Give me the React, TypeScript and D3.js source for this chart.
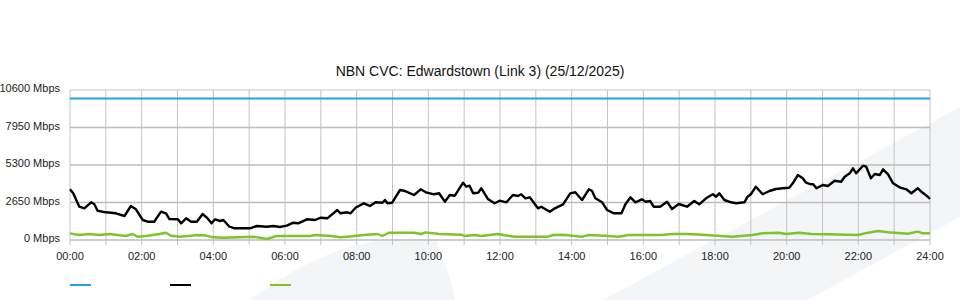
import React from "react";
import * as d3 from "d3";

const title = "NBN CVC: Edwardstown (Link 3) (25/12/2025)";
const yTicks = [0, 2650, 5300, 7950, 10600];
const xTickHours = [0, 2, 4, 6, 8, 10, 12, 14, 16, 18, 20, 22, 24];
const xGridHours = d3.range(0, 25);
const capacityMbps = 10000;

// [hour, Mbps]
const downstream: [number, number][] = [
  [0, 3580], [0.09, 3300], [0.26, 2353], [0.4, 2240], [0.59, 2664], [0.68, 2523], [0.77, 2070],
  [1.0, 1957], [1.28, 1887], [1.52, 1696], [1.7, 2403], [1.84, 2170], [2.03, 1413], [2.17, 1293],
  [2.35, 1293], [2.54, 2000], [2.68, 1887], [2.77, 1484], [3.01, 1463], [3.1, 1180], [3.24, 1533],
  [3.38, 1293], [3.54, 1293], [3.7, 1837], [3.81, 1604], [3.95, 1180], [4.05, 1463], [4.19, 1343],
  [4.28, 1413], [4.45, 940], [4.6, 827], [5.02, 827], [5.21, 989], [5.49, 940], [5.67, 989],
  [5.86, 919], [6.05, 1011], [6.23, 1223], [6.37, 1180], [6.61, 1463], [6.84, 1413], [7.0, 1576],
  [7.18, 1533], [7.46, 2120], [7.55, 1887], [7.74, 1957], [7.83, 1887], [7.97, 2283], [8.2, 2594],
  [8.37, 2403], [8.53, 2664], [8.72, 2636], [8.79, 2827], [8.86, 2594], [8.99, 2636], [9.21, 3533],
  [9.32, 3484], [9.6, 3180], [9.79, 3583], [9.93, 3371], [10.16, 3230], [10.3, 3300], [10.46, 2707],
  [10.6, 3180], [10.74, 3131], [10.97, 4049], [11.06, 3767], [11.15, 3837], [11.25, 3300],
  [11.39, 3343], [11.48, 3653], [11.67, 2876], [11.85, 2594], [11.99, 2777], [12.18, 2664],
  [12.36, 3180], [12.5, 3109], [12.59, 3230], [12.71, 2947], [12.83, 3017], [13.06, 2240],
  [13.15, 2353], [13.39, 2000], [13.53, 2240], [13.76, 2523], [13.96, 3300], [14.1, 3371],
  [14.29, 2827], [14.48, 3583], [14.57, 3463], [14.66, 2947], [14.85, 2664], [14.99, 2120],
  [15.17, 1887], [15.39, 1887], [15.5, 2523], [15.64, 3017], [15.78, 2664], [15.96, 2876],
  [16.06, 2707], [16.19, 2756], [16.29, 2353], [16.47, 2353], [16.66, 2707], [16.8, 2191],
  [16.99, 2544], [17.22, 2353], [17.42, 2756], [17.56, 2523], [17.75, 2947], [17.94, 3230],
  [18.03, 3060], [18.12, 3300], [18.26, 2827], [18.45, 2664], [18.59, 2594], [18.82, 2664],
  [18.91, 3060], [19.0, 3230], [19.14, 3767], [19.33, 3230], [19.52, 3463], [19.7, 3604],
  [19.89, 3653], [20.07, 3696], [20.17, 4007], [20.31, 4593], [20.45, 4360], [20.54, 4049],
  [20.68, 3936], [20.74, 3936], [20.83, 3653], [21.01, 3887], [21.15, 3816], [21.34, 4191],
  [21.52, 4120], [21.62, 4473], [21.76, 4713], [21.85, 5067], [21.94, 4713], [22.13, 5251],
  [22.22, 5180], [22.35, 4360], [22.46, 4664], [22.6, 4593], [22.69, 4996], [22.83, 4643],
  [22.97, 4007], [23.15, 3724], [23.34, 3583], [23.48, 3300], [23.66, 3653], [23.76, 3413],
  [23.94, 3060], [24, 2897],
];

const upstream: [number, number][] = [
  [0, 473], [0.26, 353], [0.54, 424], [0.82, 353], [1.1, 424], [1.56, 283], [1.75, 424],
  [1.89, 233], [2.12, 283], [2.49, 424], [2.68, 516], [2.82, 304], [3.05, 233], [3.38, 304],
  [3.54, 353], [3.77, 332], [4.0, 191], [4.28, 163], [5.12, 233], [5.49, 71], [5.77, 283],
  [6.14, 283], [6.7, 283], [6.84, 353], [7.28, 283], [7.55, 191], [7.74, 233], [8.2, 353],
  [8.58, 424], [8.72, 283], [8.9, 516], [9.6, 516], [9.79, 424], [9.93, 540], [10.3, 424],
  [10.92, 375], [11.01, 283], [11.29, 353], [11.48, 283], [11.94, 424], [12.13, 332],
  [12.41, 233], [13.34, 233], [13.48, 353], [13.76, 375], [14.29, 233], [14.48, 353],
  [15.03, 283], [15.31, 233], [15.59, 353], [16.52, 353], [16.8, 424], [17.22, 424],
  [17.38, 403], [17.75, 353], [18.49, 233], [19.05, 353], [19.33, 473], [19.79, 516],
  [19.98, 424], [20.35, 516], [20.68, 424], [21.15, 403], [21.99, 353], [22.27, 516],
  [22.55, 636], [22.83, 544], [23.2, 473], [23.38, 445], [23.66, 587], [23.8, 473], [24, 473],
];

const legendColors = ["#1fa3e8", "#000000", "#7cc42a"];

export default function App() {
  const W = 960;
  const H = 300;
  const x = d3.scaleLinear().domain([0, 24]).range([70, 930]);
  const y = d3.scaleLinear().domain([0, 10600]).range([240, 90]);
  const line = d3
    .line<[number, number]>()
    .x((d) => x(d[0]))
    .y((d) => y(d[1]));
  const fmt = (h: number) => (h < 10 ? "0" : "") + h + ":00";
  const font = "'Liberation Sans', Arial, sans-serif";

  return (
    <svg
      width={W}
      height={H}
      style={{ position: "absolute", left: 0, top: 0, background: "#fff" }}
      fontFamily={font}
    >
      {/* watermark shapes */}
      <path d="M603,300 L960,107 L960,217 L807,300 Z" fill="#f4f5f7" />
      <path d="M250,300 Q330,240 400,239 L436,239 L452,285 L455,300 Z" fill="#f4f5f7" />

      <text x={480} y={76} textAnchor="middle" fontSize={14} fill="#111">
        {title}
      </text>

      {/* vertical grid */}
      {xGridHours.map((h) => (
        <line
          key={"v" + h}
          x1={x(h)}
          x2={x(h)}
          y1={90}
          y2={245}
          stroke="#c4c4c4"
          strokeWidth={1}
        />
      ))}
      {/* horizontal grid */}
      {yTicks.map((v) => (
        <line
          key={"h" + v}
          x1={70}
          x2={930}
          y1={y(v)}
          y2={y(v)}
          stroke={v === 10600 ? "#c4c4c4" : "#bdbdbd"}
          strokeWidth={v === 10600 ? 1 : 1.6}
        />
      ))}
      {/* y labels */}
      {yTicks.map((v) => (
        <text
          key={"yl" + v}
          x={60}
          y={y(v) + 2}
          textAnchor="end"
          fontSize={11}
          fill="#222"
        >
          {v + " Mbps"}
        </text>
      ))}
      {/* x labels */}
      {xTickHours.map((h) => (
        <text
          key={"xl" + h}
          x={x(h)}
          y={260}
          textAnchor="middle"
          fontSize={11}
          fill="#222"
        >
          {fmt(h)}
        </text>
      ))}

      {/* capacity */}
      <line
        x1={x(0)}
        x2={x(24)}
        y1={y(capacityMbps)}
        y2={y(capacityMbps)}
        stroke={legendColors[0]}
        strokeWidth={2}
      />
      <path d={line(upstream) || ""} fill="none" stroke={legendColors[2]} strokeWidth={2.4} strokeLinejoin="round" />
      <path d={line(downstream) || ""} fill="none" stroke={legendColors[1]} strokeWidth={2.4} strokeLinejoin="round" />

      {/* legend */}
      {legendColors.map((c, i) => (
        <line
          key={"lg" + i}
          x1={70 + i * 100}
          x2={91 + i * 100}
          y1={285}
          y2={285}
          stroke={c}
          strokeWidth={2}
        />
      ))}
    </svg>
  );
}
